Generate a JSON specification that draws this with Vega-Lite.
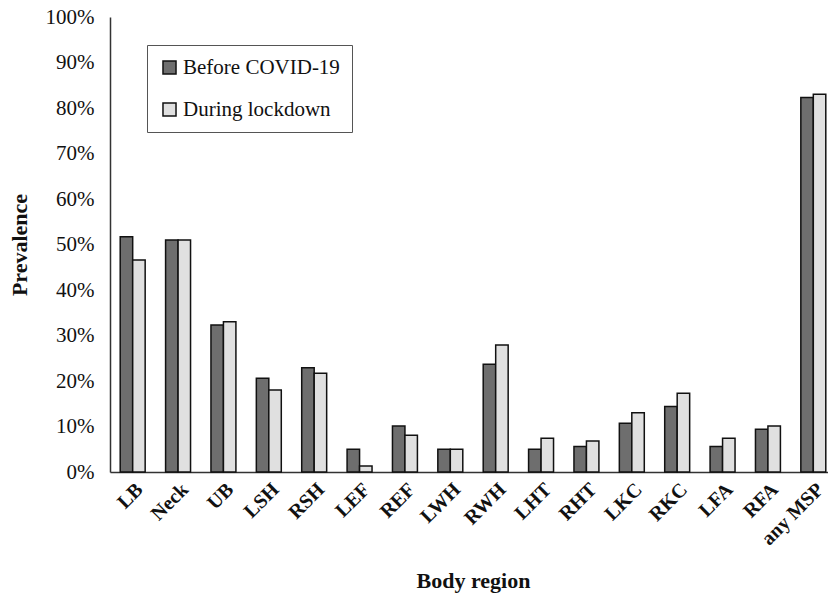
{
  "$schema": "https://vega.github.io/schema/vega-lite/v6.json",
  "width": 726,
  "height": 455,
  "autosize": {"type": "none"},
  "padding": {"left": 110, "top": 17, "right": 0, "bottom": 126},
  "background": "white",
  "config": {
    "font": "Liberation Serif",
    "view": {"stroke": null}
  },
  "data": {
    "values": [
      {"region": "LB", "period": "Before COVID-19", "value": 51.7},
      {"region": "LB", "period": "During lockdown", "value": 46.6},
      {"region": "Neck", "period": "Before COVID-19", "value": 51.0},
      {"region": "Neck", "period": "During lockdown", "value": 51.0},
      {"region": "UB", "period": "Before COVID-19", "value": 32.3},
      {"region": "UB", "period": "During lockdown", "value": 33.0},
      {"region": "LSH", "period": "Before COVID-19", "value": 20.6},
      {"region": "LSH", "period": "During lockdown", "value": 18.0},
      {"region": "RSH", "period": "Before COVID-19", "value": 22.9},
      {"region": "RSH", "period": "During lockdown", "value": 21.7},
      {"region": "LEF", "period": "Before COVID-19", "value": 5.0},
      {"region": "LEF", "period": "During lockdown", "value": 1.3},
      {"region": "REF", "period": "Before COVID-19", "value": 10.1},
      {"region": "REF", "period": "During lockdown", "value": 8.1},
      {"region": "LWH", "period": "Before COVID-19", "value": 5.0},
      {"region": "LWH", "period": "During lockdown", "value": 5.0},
      {"region": "RWH", "period": "Before COVID-19", "value": 23.7},
      {"region": "RWH", "period": "During lockdown", "value": 27.9},
      {"region": "LHT", "period": "Before COVID-19", "value": 5.0},
      {"region": "LHT", "period": "During lockdown", "value": 7.4},
      {"region": "RHT", "period": "Before COVID-19", "value": 5.6},
      {"region": "RHT", "period": "During lockdown", "value": 6.8},
      {"region": "LKC", "period": "Before COVID-19", "value": 10.7},
      {"region": "LKC", "period": "During lockdown", "value": 13.0},
      {"region": "RKC", "period": "Before COVID-19", "value": 14.4},
      {"region": "RKC", "period": "During lockdown", "value": 17.3},
      {"region": "LFA", "period": "Before COVID-19", "value": 5.6},
      {"region": "LFA", "period": "During lockdown", "value": 7.4},
      {"region": "RFA", "period": "Before COVID-19", "value": 9.4},
      {"region": "RFA", "period": "During lockdown", "value": 10.1},
      {"region": "any MSP", "period": "Before COVID-19", "value": 82.3},
      {"region": "any MSP", "period": "During lockdown", "value": 83.0}
    ]
  },
  "mark": {"type": "bar", "stroke": "#111111", "strokeWidth": 1.5},
  "encoding": {
    "x": {
      "field": "region",
      "type": "nominal",
      "sort": null,
      "scale": {"paddingInner": 0.45, "paddingOuter": 0.225},
      "axis": {
        "title": "Body region",
        "titleFontSize": 22,
        "titleFontWeight": "bold",
        "titleColor": "#111111",
        "titlePadding": 22,
        "labelAngle": -45,
        "labelFontSize": 20,
        "labelFontWeight": "bold",
        "labelColor": "#111111",
        "labelPadding": 7,
        "ticks": false,
        "domainColor": "#333333",
        "domainWidth": 1.5
      }
    },
    "xOffset": {"field": "period", "type": "nominal", "sort": null},
    "y": {
      "field": "value",
      "type": "quantitative",
      "scale": {"domain": [0, 100], "nice": false},
      "axis": {
        "title": "Prevalence",
        "titleFontSize": 22,
        "titleFontWeight": "bold",
        "titleColor": "#111111",
        "titlePadding": 14,
        "values": [0, 10, 20, 30, 40, 50, 60, 70, 80, 90, 100],
        "labelExpr": "datum.value + '%'",
        "labelFontSize": 21,
        "labelColor": "#111111",
        "labelPadding": 16,
        "ticks": false,
        "grid": false,
        "domainColor": "#333333",
        "domainWidth": 1.5
      }
    },
    "color": {
      "field": "period",
      "type": "nominal",
      "sort": null,
      "scale": {"range": ["#6e6e6e", "#e0e0e0"]},
      "legend": {
        "title": null,
        "orient": "none",
        "legendX": 37,
        "legendY": 28,
        "direction": "vertical",
        "padding": 12,
        "strokeColor": "#555555",
        "fillColor": "white",
        "symbolType": "square",
        "symbolSize": 170,
        "symbolStrokeColor": "#111111",
        "symbolStrokeWidth": 1.5,
        "symbolOpacity": 1,
        "labelFontSize": 21,
        "labelColor": "#111111",
        "labelOffset": 3,
        "rowPadding": 20
      }
    }
  }
}
